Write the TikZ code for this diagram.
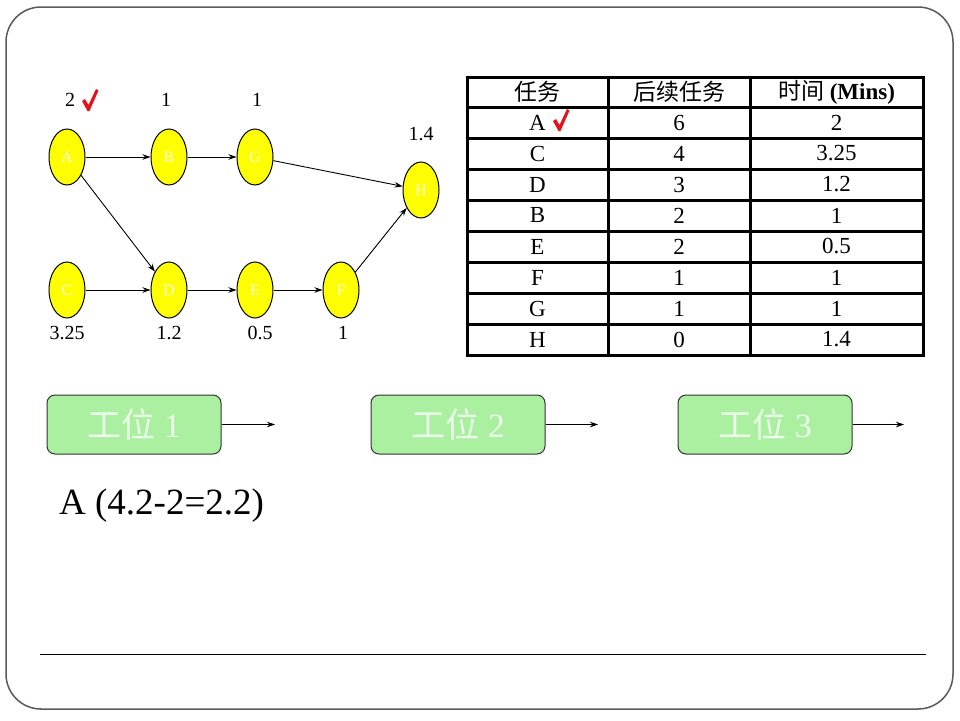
\documentclass[tikz,border=0pt]{standalone}
\usepackage{fontspec}
\setmainfont{Liberation Serif}
\newfontfamily\cjk{Noto Sans CJK SC}
\usetikzlibrary{shapes.geometric,arrows.meta}
\definecolor{frameg}{RGB}{90,90,90}
\definecolor{boxgreen}{RGB}{170,240,160}
\definecolor{nodeyellow}{RGB}{255,255,0}
\definecolor{checkred}{RGB}{225,20,30}
\tikzset{
  task/.style={ellipse,draw=black,line width=1pt,fill=nodeyellow,minimum width=36pt,minimum height=56pt,inner sep=0pt,text=white!90!yellow,font=\fontsize{16}{18}\selectfont},
  lab/.style={font=\fontsize{20}{24}\selectfont,inner sep=0pt},
  cell/.style={font=\fontsize{23}{27}\selectfont,inner sep=0pt,anchor=center},
  flow/.style={line width=0.9pt,-{Stealth[length=8pt,width=5.5pt]}},
  station/.style={draw=black!80,line width=1pt,rounded corners=8pt,fill=boxgreen,minimum width=174pt,minimum height=59pt,text=white!92!green,font=\fontsize{34}{40}\selectfont},
  tline/.style={line width=3pt},
  checkmark/.pic={\fill[checkred] (0,12) -- (3,10) -- (6.5,16) -- (14,0) -- (16.5,1.5) -- (7.5,22) -- (5.5,22) -- cycle;}
}
\begin{document}
\begin{tikzpicture}[x=1pt,y=-1pt]
\useasboundingbox (0,0) rectangle (960,720);
\fill[white] (0,0) rectangle (960,720);
\draw[frameg,line width=1.5pt,rounded corners=35pt] (6,7) rectangle (953,709);
\draw[black,line width=1pt] (40,654) -- (926,654);

% graph nodes
\node[task] (A) at (67,157) {A};
\node[task] (B) at (169,157) {B};
\node[task] (G) at (255,157) {G};
\node[task] (H) at (421,190) {H};
\node[task] (C) at (67,290) {C};
\node[task] (D) at (169,290) {D};
\node[task] (E) at (255,290) {E};
\node[task] (F) at (341,290) {F};

\draw[flow] (A) -- (B);
\draw[flow] (B) -- (G);
\draw[flow] (G) -- (H);
\draw[flow] (A) -- (D);
\draw[flow] (C) -- (D);
\draw[flow] (D) -- (E);
\draw[flow] (E) -- (F);
\draw[flow] (F) -- (H);

\node[lab] (tA) at (70,100) {2};
\pic at (82,89) {checkmark};
\node[lab] (tB) at (166,100) {1};
\node[lab] (tG) at (257,100) {1};
\node[lab] (tH) at (421,134) {1.4};
\node[lab] (tC) at (67,333) {3.25};
\node[lab] (tD) at (169,333) {1.2};
\node[lab] (tE) at (260,333) {0.5};
\node[lab] (tF) at (343,333) {1};

% table
\foreach \y in {77,107,138,169,200,231,262,293,324,355}
  \draw[tline] (465.5,\y) -- (924.5,\y);
\foreach \x in {467,608,750,923}
  \draw[tline] (\x,77) -- (\x,355);

\node[cell] (h1) at (537.5,92) {\cjk 任务};
\node[cell] (h2) at (679,92) {\cjk 后续任务};
\node[cell] (h3) at (836.5,92) {{\cjk 时间} \textbf{(Mins)}};

\foreach \n/\t/\s/\m [count=\i] in {A/6/2/a,C/4/3.25/c,D/3/1.2/d,B/2/1/b,E/2/0.5/e,F/1/1/f,G/1/1/g,H/0/1.4/h}{
  \node[cell] (r\m1) at (537.5,{107+31*\i-15.5}) {\n};
  \node[cell] (r\m2) at (679,{107+31*\i-15.5}) {\t};
  \node[cell] (r\m3) at (836.5,{107+31*\i-15.5}) {\s};
}
\pic at (553,109) {checkmark};

% stations
\node[station] (S1) at (134,424.5) {{\cjk 工位} 1};
\node[station] (S2) at (458,424.5) {{\cjk 工位} 2};
\node[station] (S3) at (765,424.5) {{\cjk 工位} 3};
\coordinate (e1) at (275,424.5);
\coordinate (e2) at (598,424.5);
\coordinate (e3) at (904,424.5);
\draw[flow,line width=1pt] (S1) -- (e1);
\draw[flow,line width=1pt] (S2) -- (e2);
\draw[flow,line width=1pt] (S3) -- (e3);

\node[font=\fontsize{37}{44}\selectfont,anchor=base west,inner sep=0pt] (note) at (59,514) {A (4.2-2=2.2)};
\end{tikzpicture}
\end{document}
